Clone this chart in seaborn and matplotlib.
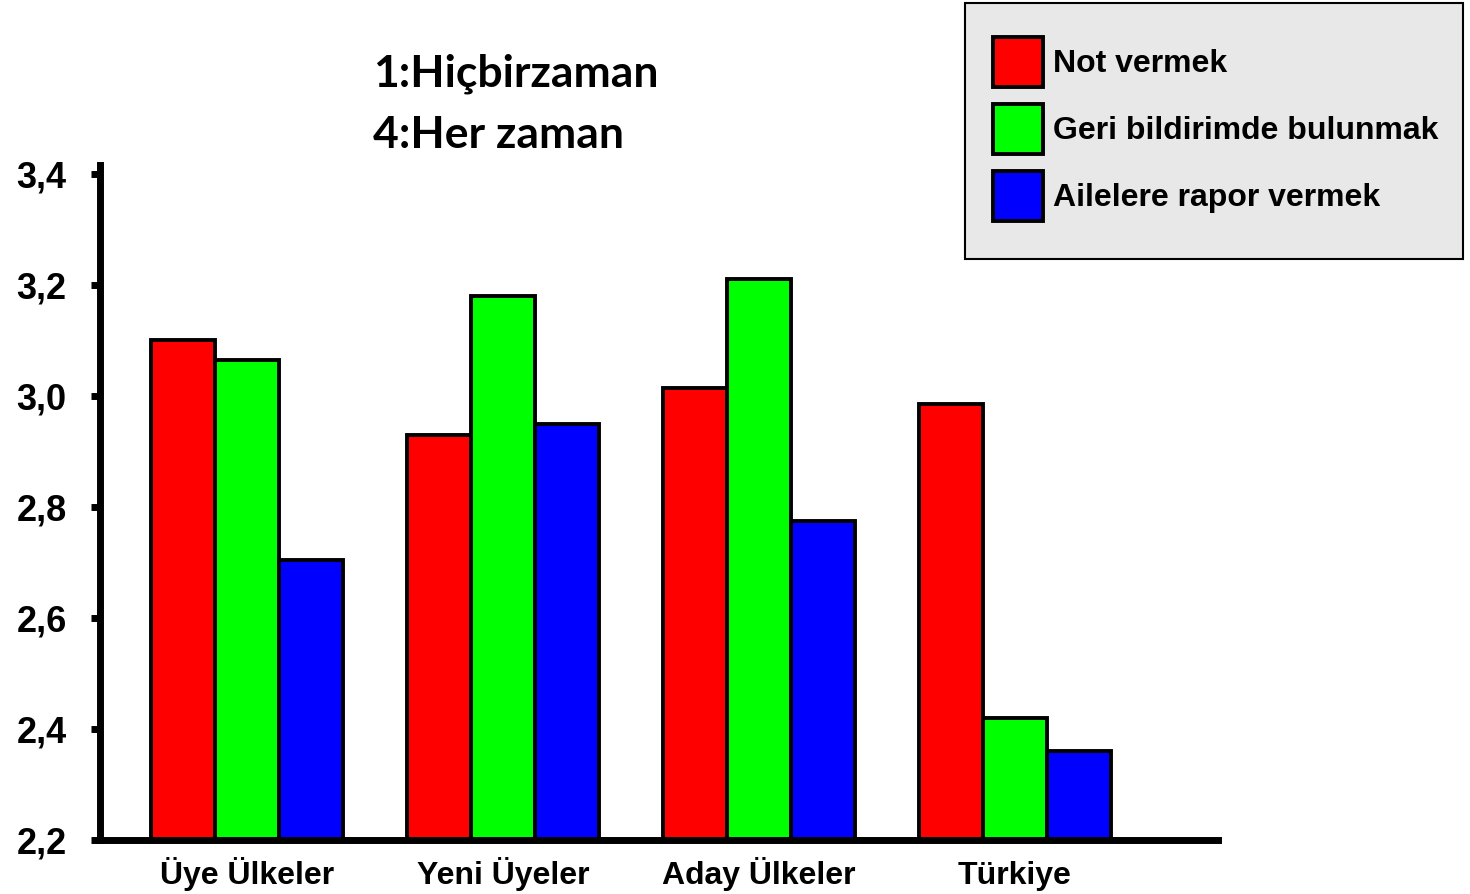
import numpy as np
import pandas as pd
import matplotlib
matplotlib.use("Agg")
import matplotlib.pyplot as plt
from matplotlib.patches import Rectangle
import seaborn as sns

# data
groups = ["Üye Ülkeler", "Yeni Üyeler", "Aday Ülkeler", "Türkiye"]
series = ["Not vermek", "Geri bildirimde bulunmak", "Ailelere rapor vermek"]
not_vermek = [3.10, 2.93, 3.015, 2.985]
geri_bildirim = [3.065, 3.18, 3.21, 2.42]
ailelere_rapor = [2.705, 2.95, 2.775, 2.36]
colors = ["#ff0000", "#00ff00", "#0000ff"]
y_ticks = [2.2, 2.4, 2.6, 2.8, 3.0, 3.2, 3.4]
y_tick_labels = ["2,2", "2,4", "2,6", "2,8", "3,0", "3,2", "3,4"]
note_lines = ["1:Hiçbirzaman", "4:Her zaman"]

df = pd.DataFrame({
    "grup": groups * 3,
    "seri": [s for s in series for _ in groups],
    "deger": not_vermek + geri_bildirim + ailelere_rapor,
})

sns.set_style("white")
plt.rcParams["font.family"] = ["Liberation Sans", "DejaVu Sans"]
plt.rcParams["font.weight"] = "bold"
plt.rcParams["text.color"] = "black"
plt.rcParams["xtick.color"] = "black"
plt.rcParams["ytick.color"] = "black"

W, H = 1470, 894
fig = plt.figure(figsize=(W / 100, H / 100), dpi=100)
ax = fig.add_axes([100 / W, 54 / H, 1118 / W, 675 / H])

sns.barplot(data=df, x="grup", y="deger", hue="seri", hue_order=series,
            palette=colors, saturation=1, width=0.75, edgecolor="black",
            linewidth=2.8, ax=ax)

ax.set_ylim(2.2, 3.416)
ax.set_xlim(-0.574, 3.793)
ax.set_yticks(y_ticks)
ax.set_yticklabels(y_tick_labels)
ax.set_xlabel("")
ax.set_ylabel("")
for side in ["top", "right"]:
    ax.spines[side].set_visible(False)
for side in ["left", "bottom"]:
    ax.spines[side].set_linewidth(5)
    ax.spines[side].set_color("black")
ax.tick_params(axis="y", left=True, length=6.5, width=5, pad=17.5,
               labelsize=26, color="black", labelcolor="black")
ax.tick_params(axis="x", bottom=False, length=0, pad=32, labelsize=23,
               labelcolor="black")
for lab in ax.get_xticklabels():
    lab.set_fontweight("bold")
    lab.set_va("baseline")
for lab in ax.get_yticklabels():
    lab.set_fontweight("bold")

# grey legend box
fig.patches.append(Rectangle((965 / W, 1 - 259 / H), 498 / W, 256 / H,
                             transform=fig.transFigure, facecolor="#e8e8e8",
                             edgecolor="black", linewidth=1.5, zorder=1))

handles, labels = ax.get_legend_handles_labels()
ax.get_legend().remove()
leg = fig.legend(handles, labels, loc="upper left",
                 bbox_to_anchor=(993 / W, 1 - 37 / H),
                 bbox_transform=fig.transFigure, borderaxespad=0,
                 fontsize=23, handlelength=1.57, handleheight=2.03,
                 handletextpad=0.3, labelspacing=0.53, borderpad=0,
                 frameon=False)
for t in leg.get_texts():
    t.set_fontweight("bold")
    t.set_color("black")

fig.text(373 / W, 1 - 86 / H, note_lines[0], fontfamily="Lato",
         fontweight="bold", fontsize=32, va="baseline", ha="left",
         color="black")
fig.text(373 / W, 1 - 148 / H, note_lines[1], fontfamily="Lato",
         fontweight="bold", fontsize=32, va="baseline", ha="left",
         color="black")

fig.savefig("out.png", dpi=100)
